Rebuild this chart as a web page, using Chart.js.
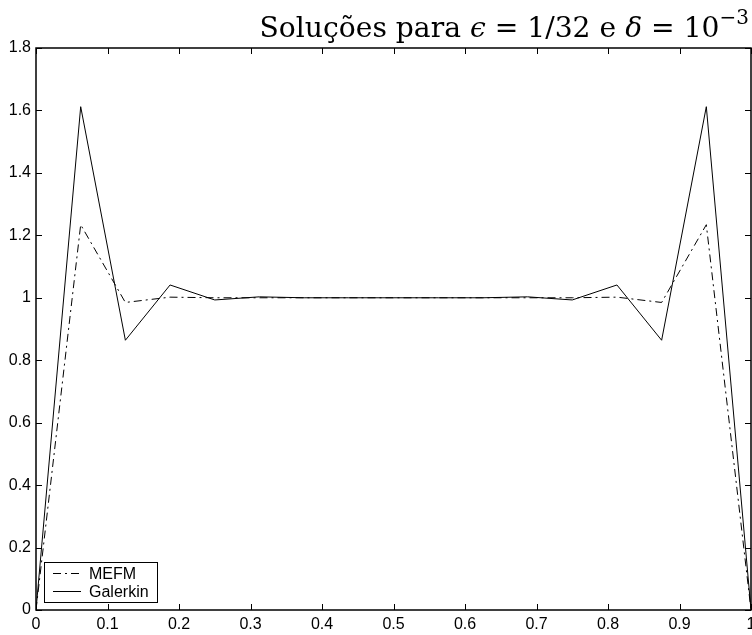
<!DOCTYPE html>
<html>
<head>
<meta charset="utf-8">
<script src="https://cdn.jsdelivr.net/npm/chart.js@4"></script>
<style>
  html, body { margin: 0; padding: 0; background: #fff; }
  #wrap { width: 752px; height: 635px; }
</style>
</head>
<body>
<div id="wrap"><canvas id="chart"></canvas></div>
<script>
// nodes of the mesh (h = 1/16)
const xNodes = [0, 0.0625, 0.125, 0.1875, 0.25, 0.3125, 0.375, 0.4375, 0.5,
  0.5625, 0.625, 0.6875, 0.75, 0.8125, 0.875, 0.9375, 1];

const mefmValues = [0, 1.234, 0.985, 1.002, 1.0, 1.0, 1.0, 1.0, 1.0,
  1.0, 1.0, 1.0, 1.0, 1.002, 0.985, 1.234, 0];

const galerkinValues = [0, 1.612, 0.864, 1.041, 0.993, 1.003, 1.0, 1.0, 1.0,
  1.0, 1.0, 1.003, 0.993, 1.041, 0.864, 1.612, 0];

const seriesNames = ["MEFM", "Galerkin"];
const xTicks = [0, 0.1, 0.2, 0.3, 0.4, 0.5, 0.6, 0.7, 0.8, 0.9, 1];
const yTicks = [0, 0.2, 0.4, 0.6, 0.8, 1, 1.2, 1.4, 1.6, 1.8];

const sans = "'Liberation Sans', Arial, sans-serif";
const tickFont = { family: sans, size: 16 };

function toPoints(values) {
  return values.map((v, i) => ({ x: xNodes[i], y: v }));
}

// ticks drawn inward on the four sides, like matlab
const boxTicks = {
  id: "boxTicks",
  afterDraw(chart) {
    const { ctx, chartArea: a, scales } = chart;
    const len = 6;
    ctx.save();
    ctx.strokeStyle = "#000";
    ctx.lineWidth = 1;
    ctx.beginPath();
    for (const t of xTicks) {
      const px = Math.round(scales.x.getPixelForValue(t)) + 0.5;
      ctx.moveTo(px, a.bottom); ctx.lineTo(px, a.bottom - len);
      ctx.moveTo(px, a.top); ctx.lineTo(px, a.top + len);
    }
    for (const t of yTicks) {
      const py = Math.round(scales.y.getPixelForValue(t)) + 0.5;
      ctx.moveTo(a.left, py); ctx.lineTo(a.left + len, py);
      ctx.moveTo(a.right, py); ctx.lineTo(a.right - len, py);
    }
    ctx.stroke();
    ctx.lineWidth = 1.5;
    ctx.strokeRect(a.left, a.top, a.right - a.left, a.bottom - a.top);
    ctx.restore();
  }
};

// legend box in the lower left corner of the plot
const innerLegend = {
  id: "innerLegend",
  afterDraw(chart) {
    const { ctx, chartArea: a } = chart;
    const x0 = a.left + 8, y0 = a.bottom - 48, w = 113, h = 40;
    ctx.save();
    ctx.fillStyle = "#fff";
    ctx.fillRect(x0, y0, w, h);
    ctx.strokeStyle = "#000";
    ctx.lineWidth = 1;
    ctx.strokeRect(x0 + 0.5, y0 + 0.5, w, h);
    ctx.font = "16px " + sans;
    ctx.textBaseline = "middle";
    chart.data.datasets.forEach((ds, i) => {
      const ly = y0 + 11 + i * 18 + 0.5;
      ctx.setLineDash(ds.borderDash || []);
      ctx.beginPath();
      ctx.moveTo(x0 + 9, ly);
      ctx.lineTo(x0 + 37, ly);
      ctx.stroke();
      ctx.setLineDash([]);
      ctx.fillStyle = "#000";
      ctx.fillText(ds.label, x0 + 45, ly + 1);
    });
    ctx.restore();
  }
};

// title with italic greek letters and a superscript
const mathTitle = {
  id: "mathTitle",
  afterDraw(chart) {
    const ctx = chart.ctx;
    const serif = "'DejaVu Serif', 'Liberation Serif', serif";
    const build = (size) => [
      { t: "Soluções para ", f: size + "px " + serif },
      { t: "ϵ", f: "italic " + size + "px " + serif },
      { t: " = 1/32 e ", f: size + "px " + serif },
      { t: "δ", f: "italic " + size + "px " + serif },
      { t: " = 10", f: size + "px " + serif },
      { t: "−3", f: Math.round(size * 0.7) + "px " + serif, sup: true }
    ];
    const measure = (parts) => {
      let w = 0;
      for (const p of parts) { ctx.font = p.f; w += ctx.measureText(p.t).width; }
      return w;
    };
    ctx.save();
    // pick a size so the title spans about the same width as the original
    let size = 30;
    size = size * 490 / measure(build(size));
    size = Math.min(size, 31);
    const parts = build(size.toFixed(1));
    let x = 749 - measure(parts);
    const base = 37;
    ctx.fillStyle = "#000";
    ctx.textBaseline = "alphabetic";
    for (const p of parts) {
      ctx.font = p.f;
      ctx.fillText(p.t, x, p.sup ? base - 13 : base);
      x += ctx.measureText(p.t).width;
    }
    ctx.restore();
  }
};

new Chart(document.getElementById("chart"), {
  type: "line",
  data: {
    datasets: [
      {
        label: seriesNames[0],
        data: toPoints(mefmValues),
        borderColor: "#000",
        borderWidth: 1,
        borderDash: [8, 4, 2, 4],
        pointRadius: 0,
        tension: 0
      },
      {
        label: seriesNames[1],
        data: toPoints(galerkinValues),
        borderColor: "#000",
        borderWidth: 1,
        pointRadius: 0,
        tension: 0
      }
    ]
  },
  options: {
    responsive: true,
    maintainAspectRatio: false,
    animation: false,
    layout: { padding: { top: 48, right: 1, left: 0, bottom: 0 } },
    plugins: { legend: { display: false }, title: { display: false }, tooltip: { enabled: false } },
    scales: {
      x: {
        type: "linear",
        min: 0,
        max: 1,
        afterFit: (s) => { s.height = 25; s.paddingLeft = 0; s.paddingRight = 0; },
        afterBuildTicks: (s) => { s.ticks = xTicks.map((v) => ({ value: v })); },
        grid: { display: false, drawTicks: false },
        border: { display: false },
        ticks: { color: "#000", font: tickFont, padding: 5, maxRotation: 0,
          callback: (v) => String(v) }
      },
      y: {
        min: 0,
        max: 1.8,
        afterFit: (s) => { s.width = 36; s.paddingTop = 0; s.paddingBottom = 0; },
        afterBuildTicks: (s) => { s.ticks = yTicks.map((v) => ({ value: v })); },
        grid: { display: false, drawTicks: false },
        border: { display: false },
        ticks: { color: "#000", font: tickFont, padding: 5,
          callback: (v) => String(v) }
      }
    }
  },
  plugins: [boxTicks, innerLegend, mathTitle]
});
</script>
</body>
</html>
